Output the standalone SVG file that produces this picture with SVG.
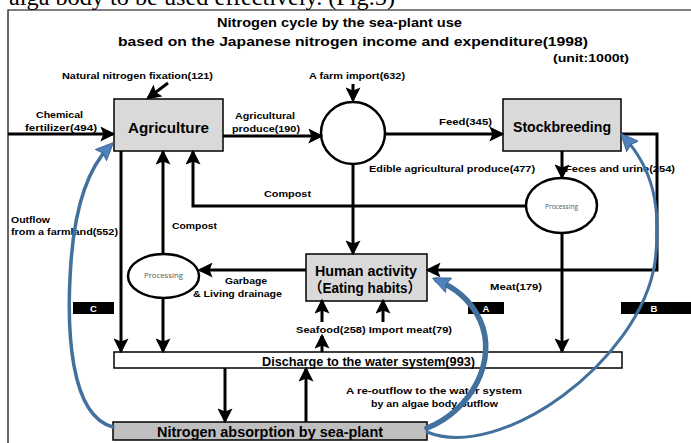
<svg xmlns="http://www.w3.org/2000/svg" width="691" height="443" viewBox="0 0 691 443">
<defs>
<style>
.t{font-family:"Liberation Sans","Noto Sans CJK JP",Arial,sans-serif;font-weight:bold;fill:#000}
.s{font-size:9.5px}
.box{stroke:#000;stroke-width:1.5}
.ln{fill:none;stroke:#000;stroke-width:3}
.bl{fill:none;stroke:#41719c;stroke-linecap:round}
.pr{font-family:"Open Sans","Liberation Sans",sans-serif;font-size:8px;fill:#555}
</style>
<marker id="ah" markerWidth="5" markerHeight="5" refX="4.2" refY="2.5" orient="auto" markerUnits="strokeWidth">
<path d="M0,0 L5,2.5 L0,5 L1,2.5 z" fill="#000"/>
</marker>
<marker id="bh" markerWidth="18" markerHeight="16" refX="13" refY="8" orient="auto" markerUnits="userSpaceOnUse" viewBox="0 0 18 16">
<path d="M0,0 L18,8 L0,16 L3,8 z" fill="#4f81bd" stroke="#385d8a" stroke-width="0.8"/>
</marker>
</defs>
<text x="9" y="5" font-family="Liberation Serif,serif" font-size="24" textLength="386" lengthAdjust="spacingAndGlyphs">alga body to be used effectively. (Fig.5)</text>
<path d="M8,443 V10 H691" fill="none" stroke="#000" stroke-width="1.2"/>
<g id="title">
<text class="t" x="217" y="27" font-size="13.5" textLength="245" lengthAdjust="spacingAndGlyphs">Nitrogen cycle by the sea-plant use</text>
<text class="t" x="118" y="46" font-size="13.5" textLength="470" lengthAdjust="spacingAndGlyphs">based on the Japanese nitrogen income and expenditure(1998)</text>
<text class="t" x="553" y="62" font-size="11" textLength="76" lengthAdjust="spacingAndGlyphs">(unit:1000t)</text>
</g>
<g id="labels">
<text class="t s" x="62" y="79" textLength="151" lengthAdjust="spacingAndGlyphs">Natural nitrogen fixation(121)</text>
<text class="t s" x="309" y="79" textLength="96" lengthAdjust="spacingAndGlyphs">A farm import(632)</text>
<text class="t s" x="36" y="118" textLength="47" lengthAdjust="spacingAndGlyphs">Chemical</text>
<text class="t s" x="25" y="131" textLength="72" lengthAdjust="spacingAndGlyphs">fertilizer(494)</text>
<text class="t s" x="235" y="119" textLength="60" lengthAdjust="spacingAndGlyphs">Agricultural</text>
<text class="t s" x="232" y="132" textLength="68" lengthAdjust="spacingAndGlyphs">produce(190)</text>
<text class="t s" x="439" y="125" textLength="53" lengthAdjust="spacingAndGlyphs">Feed(345)</text>
<text class="t s" x="369" y="172" textLength="166" lengthAdjust="spacingAndGlyphs">Edible agricultural produce(477)</text>
<text class="t s" x="565" y="172" textLength="110" lengthAdjust="spacingAndGlyphs">Feces and urine(254)</text>
<text class="t s" x="264" y="197" textLength="47" lengthAdjust="spacingAndGlyphs">Compost</text>
<text class="t s" x="11" y="223" textLength="39" lengthAdjust="spacingAndGlyphs">Outflow</text>
<text class="t s" x="11" y="235" textLength="107" lengthAdjust="spacingAndGlyphs">from a farmland(552)</text>
<text class="t s" x="172" y="229" textLength="45" lengthAdjust="spacingAndGlyphs">Compost</text>
<text class="t s" x="225" y="284" textLength="42" lengthAdjust="spacingAndGlyphs">Garbage</text>
<text class="t s" x="193" y="297" textLength="89" lengthAdjust="spacingAndGlyphs">&amp; Living drainage</text>
<text class="t s" x="490" y="290" textLength="52" lengthAdjust="spacingAndGlyphs">Meat(179)</text>
<text class="t s" x="296" y="333" textLength="156" lengthAdjust="spacingAndGlyphs">Seafood(258) Import meat(79)</text>
<text class="t s" x="346" y="394" textLength="176" lengthAdjust="spacingAndGlyphs">A re-outflow to the water system</text>
<text class="t s" x="371" y="407" textLength="127" lengthAdjust="spacingAndGlyphs">by an algae body outflow</text>
<rect x="73" y="302" width="41" height="12" fill="#000"/>
<text class="t s" x="93.5" y="312" text-anchor="middle" style="fill:#fff">C</text>
<rect x="468" y="302" width="36" height="12" fill="#000"/>
<text class="t s" x="486" y="312" text-anchor="middle" style="fill:#fff">A</text>
<rect x="621" y="302" width="70" height="12" fill="#000"/>
<text class="t s" x="654" y="312" text-anchor="middle" style="fill:#fff">B</text>
</g>
<g id="agriculture">
<rect class="box" x="114" y="99" width="109" height="52" fill="#d9d9d9"/>
<text class="t" x="128" y="133" font-size="15.5" textLength="81" lengthAdjust="spacingAndGlyphs">Agriculture</text>
</g>
<g id="junction">
<ellipse cx="353" cy="133" rx="32" ry="31" fill="#fff" stroke="#000" stroke-width="2.5"/>
</g>
<g id="stockbreeding">
<rect class="box" x="503" y="99" width="118" height="52" fill="#d9d9d9"/>
<text class="t" x="513" y="132" font-size="15" textLength="98" lengthAdjust="spacingAndGlyphs">Stockbreeding</text>
</g>
<g id="processing-right">
<ellipse cx="561.5" cy="205.5" rx="35.5" ry="27.5" fill="#fff" stroke="#000" stroke-width="2.5"/>
<text class="pr" x="545" y="209" textLength="33" lengthAdjust="spacingAndGlyphs">Processing</text>
</g>
<g id="processing-left">
<ellipse cx="163.5" cy="276" rx="35.5" ry="22" fill="#fff" stroke="#000" stroke-width="2.5"/>
<text class="pr" x="144" y="278" textLength="39" lengthAdjust="spacingAndGlyphs">Processing</text>
</g>
<g id="human-activity">
<rect class="box" x="306" y="254" width="121" height="47" fill="#d9d9d9"/>
<text class="t" x="315" y="276" font-size="14.5" textLength="102" lengthAdjust="spacingAndGlyphs">Human activity</text>
<text class="t" x="309" y="293" font-size="14.5" textLength="112" lengthAdjust="spacingAndGlyphs">（Eating habits）</text>
</g>
<g id="discharge">
<rect class="box" x="114" y="352" width="508" height="16" fill="#fff"/>
<text class="t" x="262" y="366" font-size="13" textLength="213" lengthAdjust="spacingAndGlyphs">Discharge to the water system(993)</text>
</g>
<g id="absorption">
<rect class="box" x="113" y="422" width="314" height="18" fill="#bfbfbf"/>
<text class="t" x="157" y="437" font-size="15" textLength="226" lengthAdjust="spacingAndGlyphs">Nitrogen absorption by sea-plant</text>
</g>
<g id="connectors">
<line class="ln" x1="8" y1="134" x2="113" y2="134" marker-end="url(#ah)"/>
<line class="ln" x1="168" y1="83" x2="148" y2="98" marker-end="url(#ah)"/>
<line class="ln" x1="223" y1="136" x2="321" y2="136" marker-end="url(#ah)"/>
<line class="ln" x1="353" y1="84" x2="353" y2="100" marker-end="url(#ah)"/>
<line class="ln" x1="386" y1="134" x2="502" y2="134" marker-end="url(#ah)"/>
<line class="ln" x1="353" y1="165" x2="353" y2="253" marker-end="url(#ah)"/>
<line class="ln" x1="562" y1="151" x2="562" y2="177" marker-end="url(#ah)"/>
<polyline class="ln" points="526,206 193,206 193,152" marker-end="url(#ah)"/>
<line class="ln" x1="163" y1="254" x2="163" y2="152" marker-end="url(#ah)"/>
<line class="ln" x1="306" y1="270" x2="200" y2="270" marker-end="url(#ah)"/>
<polyline class="ln" points="621,134 657,134 657,270 428,270" marker-end="url(#ah)"/>
<line class="ln" x1="562" y1="233" x2="562" y2="351" marker-end="url(#ah)"/>
<line class="ln" x1="121" y1="151" x2="121" y2="351" marker-end="url(#ah)"/>
<line class="ln" x1="163" y1="298" x2="163" y2="351" marker-end="url(#ah)"/>
<line class="ln" x1="322" y1="352" x2="322" y2="336" marker-end="url(#ah)"/>
<line class="ln" x1="322" y1="322" x2="322" y2="301" marker-end="url(#ah)"/>
<line class="ln" x1="383" y1="322" x2="383" y2="301" marker-end="url(#ah)"/>
<line class="ln" x1="225" y1="368" x2="225" y2="421" marker-end="url(#ah)"/>
<line class="ln" x1="306" y1="422" x2="306" y2="369" marker-end="url(#ah)"/>
<path class="bl" stroke-width="3.5" d="M113,427 C70,416 66,330 71,262 C75,205 88,168 110,146" marker-end="url(#bh)"/>
<path class="bl" stroke-width="5.5" d="M427,428 C472,410 498,360 480,320 C470,299 455,288 437,280" marker-end="url(#bh)"/>
<path class="bl" stroke-width="3" d="M427,432 C500,462 640,362 655,262 C662,205 652,168 624,137" marker-end="url(#bh)"/>
</g>
</svg>
